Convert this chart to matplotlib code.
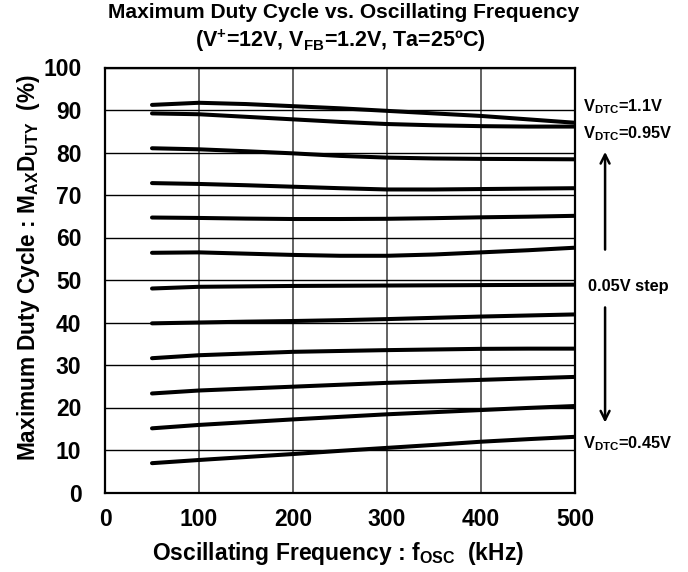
import numpy as np
import matplotlib
matplotlib.use("Agg")
import matplotlib.pyplot as plt

plt.rcParams['font.family'] = ['Liberation Sans', 'DejaVu Sans']
plt.rcParams['font.weight'] = 'bold'
plt.rcParams['mathtext.fontset'] = 'custom'
plt.rcParams['mathtext.rm'] = 'Liberation Sans:bold'
plt.rcParams['mathtext.it'] = 'Liberation Sans:bold'
plt.rcParams['mathtext.bf'] = 'Liberation Sans:bold'

# oscillating frequency (kHz)
freq = [50, 100, 150, 200, 250, 300, 350, 400, 450, 500]

# maximum duty cycle (%) for each V_DTC curve, top to bottom
duty_110 = [91.2, 91.7, 91.4, 90.9, 90.4, 89.8, 89.2, 88.6, 87.8, 87.0]
duty_095 = [89.2, 89.0, 88.4, 87.8, 87.2, 86.7, 86.4, 86.2, 86.1, 86.1]
duty_090 = [81.0, 80.75, 80.3, 79.8, 79.2, 78.8, 78.6, 78.5, 78.45, 78.4]
duty_085 = [72.8, 72.6, 72.3, 71.95, 71.6, 71.3, 71.3, 71.4, 71.5, 71.6]
duty_080 = [64.7, 64.6, 64.45, 64.35, 64.35, 64.4, 64.55, 64.75, 64.9, 65.1]
duty_075 = [56.4, 56.5, 56.2, 55.9, 55.7, 55.7, 56.0, 56.5, 57.0, 57.6]
duty_070 = [48.0, 48.4, 48.5, 48.6, 48.65, 48.7, 48.75, 48.8, 48.85, 48.9]
duty_065 = [39.8, 40.0, 40.2, 40.35, 40.55, 40.8, 41.1, 41.4, 41.65, 41.9]
duty_060 = [31.6, 32.3, 32.7, 33.1, 33.3, 33.5, 33.65, 33.8, 33.85, 33.85]
duty_055 = [23.3, 24.0, 24.45, 24.9, 25.35, 25.8, 26.15, 26.5, 26.85, 27.2]
duty_050 = [15.1, 15.9, 16.55, 17.2, 17.8, 18.4, 18.9, 19.4, 19.9, 20.35]
duty_045 = [6.9, 7.65, 8.35, 9.05, 9.8, 10.5, 11.2, 11.95, 12.55, 13.1]

curves = [duty_110, duty_095, duty_090, duty_085, duty_080, duty_075,
          duty_070, duty_065, duty_060, duty_055, duty_050, duty_045]

x_ticks = [0, 100, 200, 300, 400, 500]
y_ticks = [0, 10, 20, 30, 40, 50, 60, 70, 80, 90, 100]

fig = plt.figure(figsize=(6.88, 5.72), dpi=100)
ax = fig.add_axes([105 / 688, 1 - 492.5 / 572, 470 / 688, 425 / 572])

for duty in curves:
    ax.plot(freq, duty, color='black', lw=2.9, solid_capstyle='round', zorder=3)

ax.set_xlim(0, 500)
ax.set_ylim(0, 100)
ax.set_xticks(x_ticks)
ax.set_yticks(y_ticks)
ax.tick_params(length=0, labelsize=16.5, pad=11)
ax.tick_params(axis='y', pad=17)
for lbl in ax.get_xticklabels() + ax.get_yticklabels():
    lbl.set_fontweight('bold')

ax.xaxis.grid(True, color='#555555', lw=1.3)
ax.yaxis.grid(True, color='black', lw=1.0)
for sp in ax.spines.values():
    sp.set_linewidth(1.6)

# title and axis labels
fig.text(344 / 688, 1 - 18 / 572, 'Maximum Duty Cycle vs. Oscillating Frequency',
         ha='center', va='baseline', fontsize=15.1, fontweight='bold')
fig.text(340 / 688, 1 - 47 / 572, r'(V$^{+}$=12V, V$_{\mathrm{FB}}$=1.2V, Ta=25ºC)',
         ha='center', va='baseline', fontsize=15.5, fontweight='bold')
fig.text(338 / 688, 1 - 560 / 572, r'Oscillating Frequency : f$_{\mathrm{OSC}}$  (kHz)',
         ha='center', va='baseline', fontsize=16.5, fontweight='bold')
fig.text(29 / 688, 1 - 268 / 572,
         r'Maximum Duty Cycle : M$_{\mathrm{AX}}$D$_{\mathrm{UTY}}$  (%)',
         ha='center', va='center', rotation=90, fontsize=16.3, fontweight='bold')

# right side annotations
ax.text(508, 90.7, r'V$_{\mathrm{DTC}}$=1.1V', ha='left', va='center',
        fontsize=11.8, fontweight='bold', clip_on=False)
ax.text(508, 84.4, r'V$_{\mathrm{DTC}}$=0.95V', ha='left', va='center',
        fontsize=11.8, fontweight='bold', clip_on=False)
ax.text(557, 48.4, '0.05V step', ha='center', va='center',
        fontsize=11.8, fontweight='bold', clip_on=False)
ax.text(508, 11.6, r'V$_{\mathrm{DTC}}$=0.45V', ha='left', va='center',
        fontsize=11.8, fontweight='bold', clip_on=False)
ax.annotate('', xy=(532, 80.8), xytext=(532, 56.5), annotation_clip=False,
            arrowprops=dict(arrowstyle='->', color='black', lw=1.8,
                            mutation_scale=16))
ax.annotate('', xy=(532, 15.8), xytext=(532, 44.2), annotation_clip=False,
            arrowprops=dict(arrowstyle='->', color='black', lw=1.8,
                            mutation_scale=16))

fig.savefig('out.png', dpi=100)
